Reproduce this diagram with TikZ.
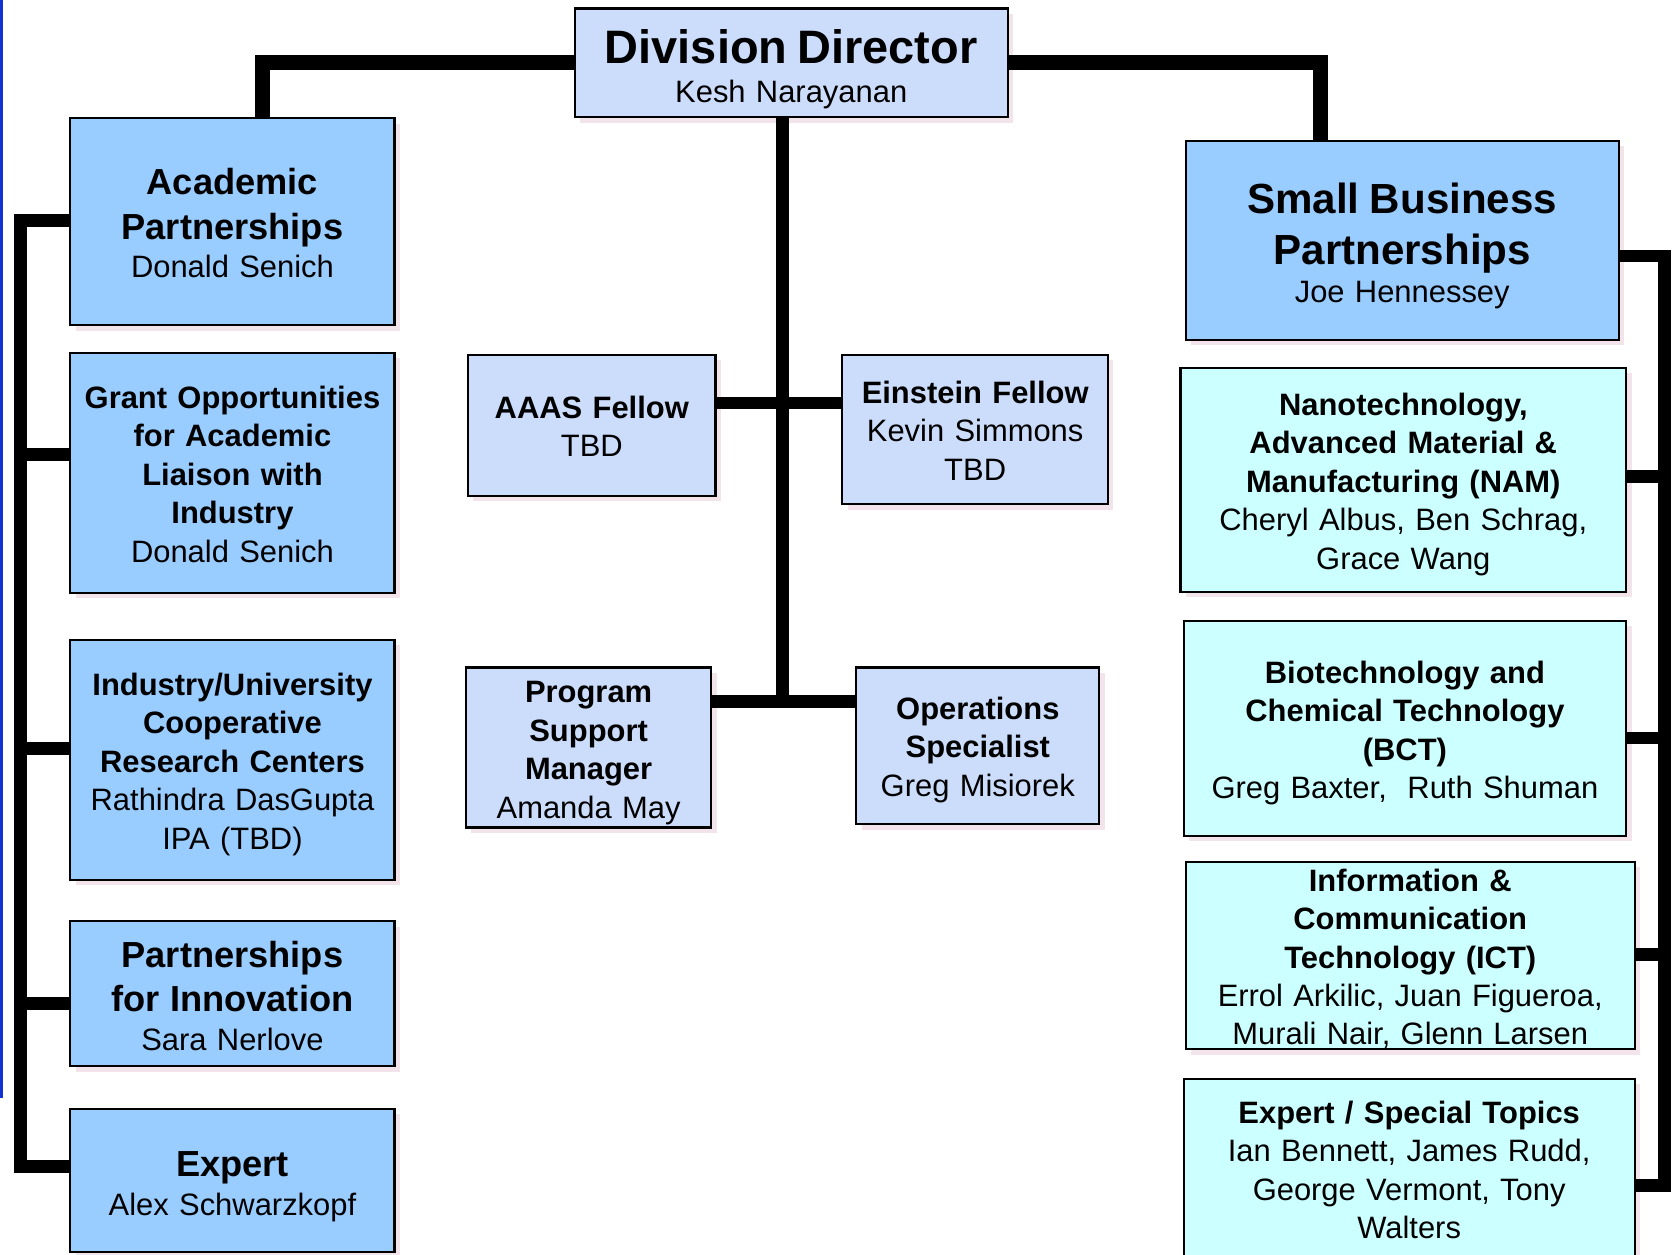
\documentclass[tikz,border=0pt]{standalone}
\usepackage{fontspec}
\setmainfont{Liberation Sans}
\usetikzlibrary{shadows}
\definecolor{lav}{RGB}{204,221,252}
\definecolor{sky}{RGB}{153,204,255}
\definecolor{aqua}{RGB}{204,255,255}
\definecolor{shd}{RGB}{242,228,234}
\definecolor{edgeblue}{RGB}{20,50,210}
\setlength\parindent{0pt}
\setlength\parskip{0pt}
\newcommand\fnorm{\normalfont\fontsize{29}{36}\selectfont}
\newcommand\fbold{\bfseries\fontsize{29}{36}\selectfont}
\newcommand\ftitle{\bfseries\fontsize{34}{42}\selectfont}
\newcommand\fhuge{\bfseries\fontsize{39.5}{48}\selectfont}
\newcommand\fdir{\bfseries\fontsize{44}{50}\selectfont}
% strut on the first line: pushes the text block down by half the given amount
\newcommand\dn[1]{\rule{0pt}{\dimexpr 0.74em+#1pt\relax}}
\tikzset{
  box/.style={draw=black, line width=2pt, inner sep=0pt, align=center, font=\fnorm,
    drop shadow={shadow xshift=5pt, shadow yshift=-5pt, fill=shd, opacity=1}},
  bx/.style 2 args={minimum width=#1pt, minimum height=#2pt, text width=#1pt-8pt},
  lavbox/.style={box, fill=lav},
  skybox/.style={box, fill=sky},
  aquabox/.style={box, fill=aqua},
  conn/.style={line width=12pt, line join=miter, draw=black},
  thickconn/.style={line width=14pt, line join=miter, draw=black}
}
\begin{document}
\begin{tikzpicture}[x=1pt,y=-1pt]
\useasboundingbox (0,0) rectangle (1568,1176);
\clip (0,0) rectangle (1568,1176);
\fill[white] (0,0) rectangle (1568,1176);
\fill[edgeblue] (0,0) rectangle (2.5,1030);

% top
\node[lavbox, bx={406}{102}] (dd) at (742,59) {\fdir\dn{11}Division Director\par\normalfont\fontsize{29}{41}\selectfont Kesh Narayanan};

% left column
\node[skybox, bx={304}{194}] (acad) at (218,208) {\ftitle\dn{2}Academic\par Partnerships\par\normalfont\fontsize{29}{38}\selectfont Donald Senich};
\node[skybox, bx={304}{225}] (grant) at (218,443.5) {\fbold\dn{2}Grant Opportunities\par for Academic\par Liaison with\par Industry\par\fnorm Donald Senich};
\node[skybox, bx={304}{225}] (iucrc) at (218,712.5) {\fbold\dn{8}Industry/University\par Cooperative\par Research Centers\par\fnorm Rathindra DasGupta\par IPA (TBD)};
\node[skybox, bx={304}{136}] (pfi) at (218,932) {\ftitle\dn{3}Partnerships\par for Innovation\par\normalfont\fontsize{29}{38}\selectfont Sara Nerlove};
\node[skybox, bx={304}{134}] (expl) at (218,1107) {\ftitle\dn{10}Expert\par\normalfont\fontsize{29}{38}\selectfont Alex Schwarzkopf};

% middle
\node[lavbox, bx={232}{132}] (aaas) at (555,399) {\fbold\dn{1}AAAS Fellow\par\fnorm TBD};
\node[lavbox, bx={249}{140}] (einst) at (914.5,403) {\fbold\dn{1}Einstein Fellow\par\fnorm Kevin Simmons\par TBD};
\node[lavbox, bx={230}{150}] (psm) at (552,701) {\fbold\dn{9}Program\par Support\par Manager\par\fnorm Amanda May};
\node[lavbox, bx={228}{147}] (ops) at (917,699.5) {\fbold\dn{7}Operations\par Specialist\par\fnorm Greg Misiorek};

% right column
\node[skybox, bx={406}{187}] (sbp) at (1315,225.5) {\fhuge\dn{10}Small Business\par Partnerships\par\normalfont\fontsize{29}{39}\selectfont Joe Hennessey};
\node[aquabox, bx={418}{210}] (nam) at (1316,450) {\fbold\dn{8}Nanotechnology,\par Advanced Material \&\par Manufacturing (NAM)\par\fnorm Cheryl Albus, Ben Schrag,\par Grace Wang};
\node[aquabox, bx={415}{202}] (bct) at (1317.5,683) {\fbold\dn{8}Biotechnology and\par Chemical Technology\par (BCT)\par\fnorm Greg Baxter,\ \ Ruth Shuman};
\node[aquabox, bx={421}{176}] (ict) at (1322.5,896) {\fbold\dn{6}Information \&\par Communication\par Technology (ICT)\par\fnorm Errol Arkilic, Juan Figueroa,\par Murali Nair, Glenn Larsen};
\node[aquabox, bx={423}{170}] (est) at (1321.5,1097) {\fbold Expert / Special Topics\par\fnorm Ian Bennett, James Rudd,\par George Vermont, Tony\par Walters};

% junction coordinates
\coordinate (cA) at (734,378);
\coordinate (cB) at (734,658);
\coordinate (lT) at (19,207);
\coordinate (l2) at (19,426);
\coordinate (l3) at (19,702);
\coordinate (l4) at (19,941);
\coordinate (lB) at (19,1094);
\coordinate (rT) at (1561,240);
\coordinate (r2) at (1561,447);
\coordinate (r3) at (1561,692);
\coordinate (r4) at (1561,895);
\coordinate (rB) at (1561,1112);

% connectors
\draw[thickconn] (dd.west) -| ([xshift=28pt]acad.north);
\draw[thickconn] (dd.east) -| ([xshift=-77pt]sbp.north);
\draw[conn] (dd.south -| cB) -- (cB);
\draw[conn] (aaas.east |- cA) -- (einst.west |- cA);
\draw[conn] (psm.east |- cB) -- (ops.west |- cB);

\draw[conn] (acad.west |- lT) -- (lT) -- (lB) -- (expl.west |- lB);
\draw[conn] (l2) -- (grant.west |- l2);
\draw[conn] (l3) -- (iucrc.west |- l3);
\draw[conn] (l4) -- (pfi.west |- l4);

\draw[conn] (sbp.east |- rT) -- (rT) -- (rB) -- (est.east |- rB);
\draw[conn] (r2) -- (nam.east |- r2);
\draw[conn] (r3) -- (bct.east |- r3);
\draw[conn] (r4) -- (ict.east |- r4);
\end{tikzpicture}
\end{document}
